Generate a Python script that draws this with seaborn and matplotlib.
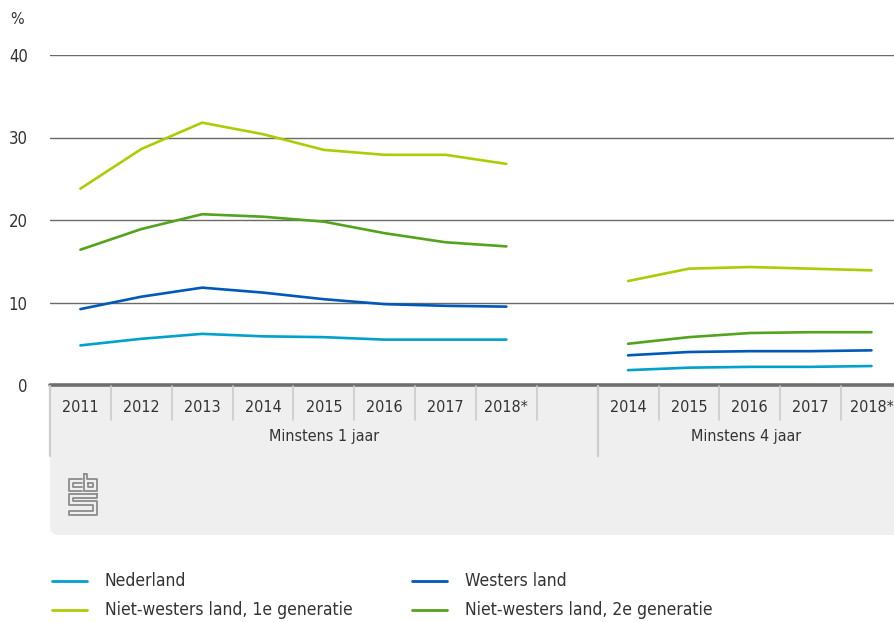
import numpy as np
import pandas as pd
import matplotlib
matplotlib.use("Agg")
import matplotlib.pyplot as plt
import seaborn as sns
from matplotlib.patches import FancyBboxPatch
from matplotlib.lines import Line2D
from matplotlib import font_manager

# ---------------- data ----------------
years_1 = ["2011", "2012", "2013", "2014", "2015", "2016", "2017", "2018*"]
years_4 = ["2014", "2015", "2016", "2017", "2018*"]
groups = ["Minstens 1 jaar", "Minstens 4 jaar"]
series = ["Nederland", "Westers land",
          "Niet-westers land, 1e generatie", "Niet-westers land, 2e generatie"]
colors = ["#00a1cd", "#0058b8", "#afcb05", "#53a31d"]

nederland_1 = [4.8, 5.6, 6.2, 5.9, 5.8, 5.5, 5.5, 5.5]
westers_1 = [9.2, 10.7, 11.8, 11.2, 10.4, 9.8, 9.6, 9.5]
nw1_1 = [23.8, 28.6, 31.8, 30.4, 28.5, 27.9, 27.9, 26.8]
nw2_1 = [16.4, 18.9, 20.7, 20.4, 19.8, 18.4, 17.3, 16.8]

nederland_4 = [1.8, 2.1, 2.2, 2.2, 2.3]
westers_4 = [3.6, 4.0, 4.1, 4.1, 4.2]
nw1_4 = [12.6, 14.1, 14.3, 14.1, 13.9]
nw2_4 = [5.0, 5.8, 6.3, 6.4, 6.4]

yticks = [0, 10, 20, 30, 40]

categories = years_1 + [""] + years_4
offsets = [0, len(years_1) + 1]
group_years = [years_1, years_4]
group_values = [
    [nederland_1, westers_1, nw1_1, nw2_1],
    [nederland_4, westers_4, nw1_4, nw2_4],
]

rows = []
for gi, g in enumerate(groups):
    for si, s in enumerate(series):
        for yi, v in enumerate(group_values[gi][si]):
            rows.append({"group": g, "series": s, "x": offsets[gi] + yi, "value": v})
df = pd.DataFrame(rows)

# ---------------- style ----------------
sns.set_theme(style="white")
plt.rcParams["font.family"] = ["DejaVu Sans"]
plt.rcParams["font.stretch"] = "condensed"
text_col = "#333333"

W, H = 894, 622
fig = plt.figure(figsize=(W / 100, H / 100), dpi=100)

def fx(px):
    return px / W

def fy(py):
    return 1 - py / H

slot = 60.85
left = 50.0
n = len(categories)
ax = fig.add_axes([fx(left), fy(385), n * slot / W, 330 / H])

# gray box under the chart (behind axes)
box = FancyBboxPatch((fx(50), fy(535)), fx(940) - fx(50), (535 - 370) / H,
                     boxstyle="round,pad=0,rounding_size=0.012",
                     transform=fig.transFigure, facecolor="#efefef",
                     edgecolor="none", zorder=-5)
fig.patches.append(box)
ax.set_facecolor("white")

pal = dict(zip(series, colors))
for g in groups:
    sns.lineplot(data=df[df["group"] == g], x="x", y="value", hue="series",
                 hue_order=series, palette=pal, ax=ax, legend=False,
                 linewidth=1.9, sort=True)

ax.set_xlim(-0.5, n - 0.5)
ax.set_ylim(0, 40)
ax.set_yticks(yticks)
ax.set_yticklabels([str(t) for t in yticks], fontsize=12, color=text_col)
ax.tick_params(axis="y", length=0, pad=16)
ax.set_xticks([])
ax.set_xlabel("")
ax.set_ylabel("")
for sp in ax.spines.values():
    sp.set_visible(False)
ax.yaxis.grid(True, color="#6a6a6a", linewidth=1.0)
ax.set_axisbelow(True)
ax.axhline(0, color="#6e6e6e", linewidth=2.6, clip_on=False, zorder=5)

# "%" label
fig.text(fx(10), fy(20), "%", fontsize=11.5, color=text_col, ha="left", va="center")

# category labels + separators
sep_col = "#cccccc"
for i, c in enumerate(categories):
    if c:
        fig.text(fx(left + (i + 0.5) * slot), fy(408), c, fontsize=11.5,
                 color=text_col, ha="center", va="center")
for i in range(n + 1):
    xpx = left + i * slot
    if i == 0 or i == offsets[1]:
        fig.add_artist(Line2D([fx(xpx), fx(xpx)], [fy(386), fy(456)],
                              color=sep_col, linewidth=1.6))
    else:
        fig.add_artist(Line2D([fx(xpx), fx(xpx)], [fy(386), fy(420)],
                              color=sep_col, linewidth=1.2))

# group labels
for gi, g in enumerate(groups):
    start = offsets[gi]
    end = offsets[gi] + len(group_years[gi]) + (1 if gi == 0 else 0)
    xc = left + (start + end) / 2 * slot
    if gi == 1:
        xc = (left + offsets[1] * slot + W) / 2
    fig.text(fx(xc), fy(436), g, fontsize=11.5, color=text_col,
             ha="center", va="center")

# simple cbs logo
lc = "#8c8c8c"
def seg(pts, lw=1.3):
    xs = [fx(p[0]) for p in pts]
    ys = [fy(p[1]) for p in pts]
    fig.add_artist(Line2D(xs, ys, color=lc, linewidth=lw))
# c
seg([(82, 479), (69, 479), (69, 491), (82, 491)])
seg([(82, 483), (73, 483), (73, 487), (82, 487)])
# b
seg([(84, 474), (84, 491), (97, 491), (97, 479), (87, 479), (87, 474), (84, 474)])
seg([(88, 483), (93, 483), (93, 487), (88, 487), (88, 483)])
# s
seg([(97, 494), (69, 494), (69, 505), (93, 505), (93, 511), (69, 511), (69, 515), (97, 515), (97, 501), (73, 501), (73, 498), (97, 498), (97, 494)])

# legend (manual placement)
leg_items = [(52, 581, 0), (412, 581, 1), (52, 610, 2), (412, 610, 3)]
for x0, y0, si in leg_items:
    fig.add_artist(Line2D([fx(x0), fx(x0 + 35)], [fy(y0), fy(y0)],
                          color=colors[si], linewidth=2.0))
    fig.text(fx(x0 + 53), fy(y0), series[si], fontsize=12.5, color=text_col,
             ha="left", va="center")

fig.savefig("out.png", dpi=100)
